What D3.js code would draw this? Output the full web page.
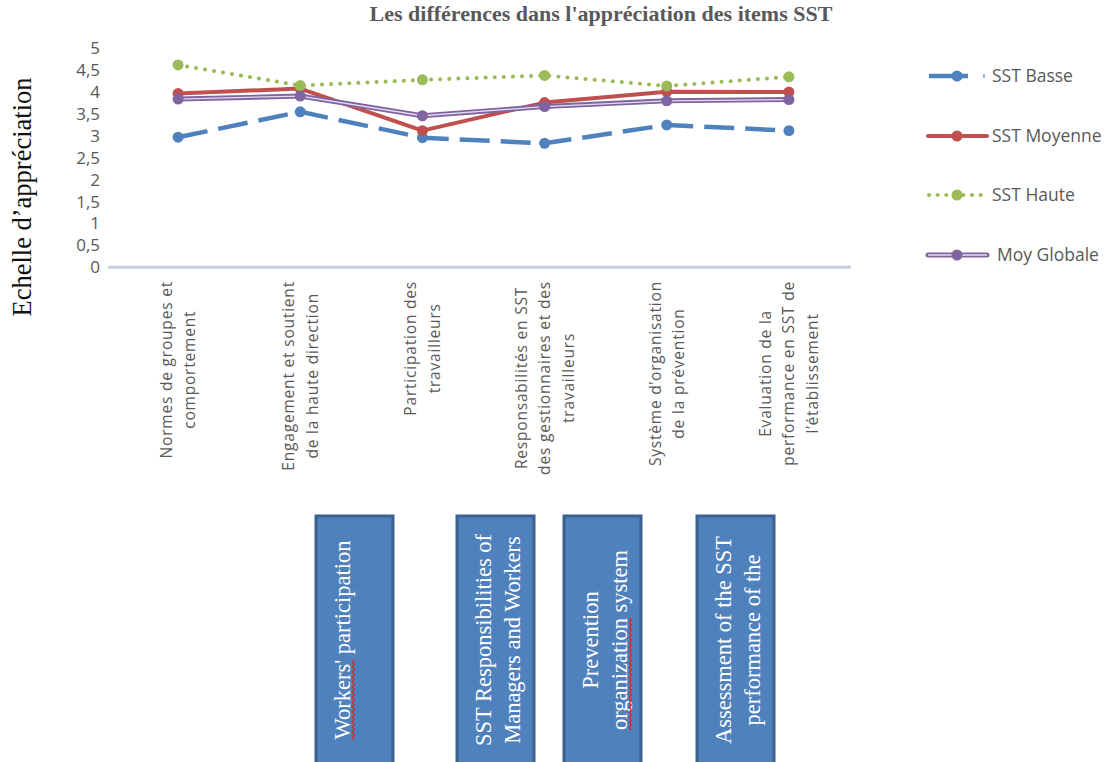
<!DOCTYPE html>
<html><head><meta charset="utf-8">
<script src="https://cdn.jsdelivr.net/npm/d3@7"></script>
<style>html,body{margin:0;padding:0;background:#fff;}</style>
</head><body>
<svg id="chart" width="1107" height="762"></svg>
<script>
// ---- data ----
const categories = [
  "Normes de groupes et comportement",
  "Engagement et soutient de la haute direction",
  "Participation des travailleurs",
  "Responsabilités en SST des gestionnaires et des travailleurs",
  "Système d’organisation de la prévention",
  "Evaluation de la performance en SST de l’établissement"
];
const categoryLines = [
  ["Normes de groupes et", "comportement"],
  ["Engagement et soutient", "de la haute direction"],
  ["Participation des", "travailleurs"],
  ["Responsabilités en SST", "des gestionnaires et des", "travailleurs"],
  ["Système d’organisation", "de la prévention"],
  ["Evaluation de la", "performance en SST de", "l’établissement"]
];
const seriesNames = ["SST Basse", "SST Moyenne", "SST Haute", "Moy Globale"];
const sstBasse   = [2.97, 3.55, 2.96, 2.83, 3.25, 3.12];
const sstMoyenne = [3.97, 4.08, 3.12, 3.76, 4.01, 4.00];
const sstHaute   = [4.62, 4.15, 4.28, 4.38, 4.14, 4.35];
const moyGlobale = [3.84, 3.91, 3.46, 3.67, 3.80, 3.83];
const yTicks = [0, 0.5, 1, 1.5, 2, 2.5, 3, 3.5, 4, 4.5, 5];
const title = "Les différences dans l'appréciation des items SST";
const yTitle = "Echelle d’appréciation";
const boxLabels = [
  ["Workers' participation"],
  ["SST Responsibilities of", "Managers and Workers"],
  ["Prevention", "organization system"],
  ["Assessment of the SST", "performance of the"]
];
const misspelled = [["Workers'"], [], ["organization"], []];

// ---- styles ----
const styles = [
  {color: "#4f81bd", width: 4.5, dash: "30,11", cap: "butt"},
  {color: "#c0504d", width: 4, dash: null, cap: "round"},
  {color: "#9bbb59", width: 4, dash: "0.1,9", cap: "round"},
  {color: "#8064a2", width: 5, dash: null, cap: "round", inner: "#e4dcee"}
];
const values = [sstBasse, sstMoyenne, sstHaute, moyGlobale];

const svg = d3.select("#chart");
const sansFont = "'Open Sans', 'Noto Sans', sans-serif";
const serifFont = "'Liberation Serif', 'Times New Roman', serif";
const grey = "#595959";

const x = d3.scaleBand().domain(categories).range([117, 850]).padding(0);
const y = d3.scaleLinear().domain([0, 5]).range([267.3, 48.3]);
const cx = c => x(c) + x.bandwidth() / 2;

// title
svg.append("text").attr("x", 601).attr("y", 21).attr("text-anchor", "middle")
  .attr("font-family", serifFont).attr("font-weight", "bold").attr("font-size", 22)
  .attr("fill", grey).text(title);

// y title
svg.append("text").attr("transform", "translate(31,197) rotate(-90)")
  .attr("text-anchor", "middle").attr("font-family", serifFont).attr("font-size", 26.5)
  .attr("fill", "#111").text(yTitle);

// y axis labels
const locale = d3.formatLocale({decimal: ",", thousands: " ", grouping: [3], currency: ["", "€"]});
const fmt = v => Number.isInteger(v) ? String(v) : locale.format(".1f")(v);
const yAxis = d3.axisLeft(y).tickValues(yTicks).tickFormat(fmt).tickSize(0).tickPadding(0);
const gy = svg.append("g").attr("transform", "translate(100,0)").call(yAxis);
gy.select(".domain").remove();
gy.selectAll("text").attr("font-family", sansFont).attr("font-size", 17).attr("fill", grey);

// x axis line
svg.append("line").attr("x1", 108).attr("x2", 851).attr("y1", y(0)).attr("y2", y(0))
  .attr("stroke", "#c3cedd").attr("stroke-width", 3);

// x labels
categories.forEach((c, i) => {
  const lines = categoryLines[i];
  const n = lines.length;
  const g = svg.append("g").attr("transform", `translate(${cx(c)},281) rotate(-90)`);
  const t = g.append("text").attr("font-family", sansFont).attr("font-size", 15.5)
    .attr("letter-spacing", 0.8).attr("fill", grey);
  lines.forEach((l, j) => {
    t.append("tspan").attr("x", 0).attr("y", (j - (n - 1) / 2) * 23.5 + 5.5).text(l);
  });
  const widths = [];
  t.selectAll("tspan").each(function () { widths.push(this.getComputedTextLength()); });
  const maxW = d3.max(widths);
  t.selectAll("tspan").attr("x", (d, j) => -maxW / 2 - widths[j] / 2);
});

// lines
const lineGen = d3.line().x((d, i) => cx(categories[i])).y(d => y(d));
values.forEach((vals, s) => {
  const st = styles[s];
  const p = svg.append("path").attr("d", lineGen(vals)).attr("fill", "none")
    .attr("stroke", st.color).attr("stroke-width", st.width)
    .attr("stroke-linecap", st.cap).attr("stroke-linejoin", "round");
  if (st.dash) p.attr("stroke-dasharray", st.dash);
  if (st.inner) svg.append("path").attr("d", lineGen(vals)).attr("fill", "none")
    .attr("stroke", st.inner).attr("stroke-width", 1.3).attr("stroke-linejoin", "round");
  svg.append("g").selectAll("circle").data(vals).join("circle")
    .attr("cx", (d, i) => cx(categories[i])).attr("cy", d => y(d)).attr("r", 5.5)
    .attr("fill", st.color);
});

// legend
const legY = [76, 136, 195, 255];
seriesNames.forEach((nm, s) => {
  const st = styles[s];
  const g = svg.append("g").attr("transform", `translate(0,${legY[s]})`);
  if (s === 0) {
    g.append("line").attr("x1", 929).attr("x2", 968).attr("y1", 0).attr("y2", 0)
      .attr("stroke", st.color).attr("stroke-width", 4.5);
    g.append("line").attr("x1", 984).attr("x2", 984).attr("y1", -2).attr("y2", 2)
      .attr("stroke", st.color).attr("stroke-width", 1.2);
  } else {
    const l = g.append("line").attr("x1", 928).attr("x2", 987).attr("y1", 0).attr("y2", 0)
      .attr("stroke", st.color).attr("stroke-width", st.width).attr("stroke-linecap", st.cap);
    if (st.dash) l.attr("stroke-dasharray", "0.1,8.5").attr("x1", 929).attr("x2", 981);
    if (st.inner) g.append("line").attr("x1", 928).attr("x2", 987).attr("y1", 0).attr("y2", 0)
      .attr("stroke", st.inner).attr("stroke-width", 1.3);
  }
  g.append("circle").attr("cx", 957).attr("cy", 0).attr("r", 5.5).attr("fill", st.color);
  g.append("text").attr("x", s === 3 ? 997 : 992).attr("y", 6)
    .attr("font-family", sansFont).attr("font-size", 17.5).attr("fill", grey).text(nm);
});

// annotation boxes
const boxX = [316, 457, 564, 697];
boxLabels.forEach((lines, b) => {
  svg.append("rect").attr("x", boxX[b]).attr("y", 516).attr("width", 77).attr("height", 260)
    .attr("fill", "#4f81bd").attr("stroke", "#3b6192").attr("stroke-width", 3);
  lines.forEach((l, j) => {
    const bx = boxX[b] + 34 + j * 29;
    const g = svg.append("g").attr("transform", `translate(${bx},640) rotate(-90)`);
    const t = g.append("text").attr("x", 0).attr("y", 0).attr("text-anchor", "middle")
      .attr("font-family", serifFont).attr("font-size", 22.5).attr("fill", "#fff").text(l);
    misspelled[b].forEach(w => {
      const idx = l.indexOf(w);
      if (idx < 0) return;
      const node = t.node();
      const total = node.getComputedTextLength();
      const start = -total / 2 + (idx > 0 ? node.getSubStringLength(0, idx) : 0);
      const len = node.getSubStringLength(idx, w.length);
      let d = `M${start},4`;
      for (let k = 0, up = true; k < len; k += 2.5, up = !up) d += `L${Math.min(start + k + 2.5, start + len)},${up ? 2.3 : 4.3}`;
      g.append("path").attr("d", d).attr("fill", "none").attr("stroke", "#e0201b").attr("stroke-width", 1.2);
    });
  });
});
</script>
</body></html>
